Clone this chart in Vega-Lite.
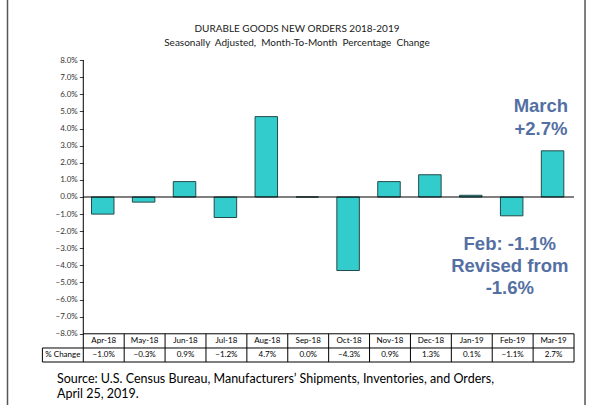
{
  "$schema": "https://vega.github.io/schema/vega-lite/v6.json",
  "width": 600,
  "height": 405,
  "autosize": {"type": "none"},
  "padding": 0,
  "background": "white",
  "config": {"view": {"stroke": null}, "font": "Lato", "axis": {"labelOverlap": false}},
  "data": {
    "values": [
      {"month": "Apr-18", "value": -0.010},
      {"month": "May-18", "value": -0.003},
      {"month": "Jun-18", "value": 0.009},
      {"month": "Jul-18", "value": -0.012},
      {"month": "Aug-18", "value": 0.047},
      {"month": "Sep-18", "value": 0.000},
      {"month": "Oct-18", "value": -0.043},
      {"month": "Nov-18", "value": 0.009},
      {"month": "Dec-18", "value": 0.013},
      {"month": "Jan-19", "value": 0.001},
      {"month": "Feb-19", "value": -0.011},
      {"month": "Mar-19", "value": 0.027}
    ]
  },
  "layer": [
    {
      "mark": {"type": "bar", "fill": "#33CCCC", "stroke": "#244a4a", "strokeWidth": 1, "width": {"band": 0.55}, "xOffset": -1},
      "encoding": {
        "x": {
          "field": "month", "type": "nominal",
          "scale": {"domain": ["% Change", "Apr-18", "May-18", "Jun-18", "Jul-18", "Aug-18", "Sep-18", "Oct-18", "Nov-18", "Dec-18", "Jan-19", "Feb-19", "Mar-19"], "paddingInner": 0, "paddingOuter": 0.836, "align": 0.62},
          "axis": null
        },
        "y": {
          "field": "value", "type": "quantitative",
          "scale": {"domain": [-0.12164, 0.1152], "nice": false, "zero": false},
          "axis": {"orient": "left", "offset": -83.3, "values": [-0.08, -0.07, -0.06, -0.05, -0.04, -0.03, -0.02, -0.01, 0, 0.01, 0.02, 0.03, 0.04, 0.05, 0.06, 0.07, 0.08], "tickCount": 17, "format": ".1%", "labelOverlap": false, "labelBound": false, "domain": false, "grid": false, "ticks": true, "tickSize": 4, "tickColor": "#404040", "labelFontSize": 8, "labelColor": "#333333", "labelPadding": 2, "title": null}
        },
        "y2": {"datum": 0}
      }
    },
    {
      "data": {"values": [{}]},
      "mark": {"type": "rule", "stroke": "#000000", "strokeWidth": 1.2},
      "encoding": {
        "x": {"datum": "Apr-18", "type": "nominal", "bandPosition": 0},
        "x2": {"datum": "Mar-19", "bandPosition": 1},
        "y": {"datum": 0, "type": "quantitative"}
      }
    },
    {
      "data": {"values": [{}]},
      "mark": {"type": "rule", "stroke": "#000000", "strokeWidth": 1},
      "encoding": {
        "x": {"datum": "Apr-18", "type": "nominal", "bandPosition": 0},
        "x2": {"datum": "Mar-19", "bandPosition": 1},
        "y": {"datum": -0.08, "type": "quantitative"}
      }
    },
    {
      "data": {"values": [{"lv": -0.0883}, {"lv": -0.0965}]},
      "mark": {"type": "rule", "stroke": "#000000", "strokeWidth": 1},
      "encoding": {
        "x": {"datum": "% Change", "type": "nominal", "bandPosition": 0},
        "x2": {"datum": "Mar-19", "bandPosition": 1},
        "y": {"field": "lv", "type": "quantitative"}
      }
    },
    {
      "data": {"values": [{}]},
      "mark": {"type": "rule", "stroke": "#000000", "strokeWidth": 1},
      "encoding": {
        "x": {"datum": "Apr-18", "type": "nominal", "bandPosition": 0},
        "y": {"datum": 0.08, "type": "quantitative"},
        "y2": {"datum": -0.0965}
      }
    },
    {
      "data": {"values": [{}]},
      "mark": {"type": "rule", "stroke": "#000000", "strokeWidth": 1},
      "encoding": {
        "x": {"datum": "% Change", "type": "nominal", "bandPosition": 0},
        "y": {"datum": -0.0883, "type": "quantitative"},
        "y2": {"datum": -0.0965}
      }
    },
    {
      "mark": {"type": "rule", "stroke": "#000000", "strokeWidth": 1},
      "encoding": {
        "x": {"field": "month", "type": "nominal", "bandPosition": 1},
        "y": {"datum": -0.08, "type": "quantitative"},
        "y2": {"datum": -0.0965}
      }
    },
    {
      "mark": {"type": "text", "fontSize": 8, "color": "#000000", "baseline": "middle"},
      "encoding": {
        "x": {"field": "month", "type": "nominal"},
        "y": {"datum": -0.0845, "type": "quantitative"},
        "text": {"field": "month"}
      }
    },
    {
      "mark": {"type": "text", "fontSize": 8, "color": "#000000", "baseline": "middle"},
      "encoding": {
        "x": {"field": "month", "type": "nominal"},
        "y": {"datum": -0.0924, "type": "quantitative"},
        "text": {"field": "value", "format": ".1%"}
      }
    },
    {
      "data": {"values": [{}]},
      "mark": {"type": "text", "fontSize": 8, "color": "#000000", "baseline": "middle", "text": "% Change"},
      "encoding": {
        "x": {"datum": "% Change", "type": "nominal"},
        "y": {"datum": -0.0924, "type": "quantitative"}
      }
    },
    {
      "data": {"values": [{}]},
      "mark": {"type": "text", "fontSize": 10, "color": "#1a1a1a", "baseline": "middle", "text": "DURABLE GOODS NEW ORDERS 2018-2019"},
      "encoding": {
        "x": {"datum": "Sep-18", "type": "nominal", "bandPosition": 0.225},
        "y": {"datum": 0.0982, "type": "quantitative"}
      }
    },
    {
      "data": {"values": [{}]},
      "mark": {"type": "text", "fontSize": 10, "color": "#1a1a1a", "baseline": "middle", "text": "Seasonally \u00a0Adjusted, \u00a0Month-To-Month \u00a0Percentage \u00a0Change"},
      "encoding": {
        "x": {"datum": "Sep-18", "type": "nominal", "bandPosition": 0.225},
        "y": {"datum": 0.0899, "type": "quantitative"}
      }
    },
    {
      "data": {"values": [{}]},
      "mark": {"type": "text", "font": "Liberation Sans", "fontWeight": "bold", "fontSize": 18.5, "color": "#5470A3", "baseline": "middle", "lineHeight": 23, "text": ["March", "+2.7%"]},
      "encoding": {
        "x": {"datum": "Mar-19", "type": "nominal", "bandPosition": 0.19},
        "y": {"datum": 0.0532, "type": "quantitative"}
      }
    },
    {
      "data": {"values": [{}]},
      "mark": {"type": "text", "font": "Liberation Sans", "fontWeight": "bold", "fontSize": 18.5, "color": "#5470A3", "baseline": "middle", "lineHeight": 22, "text": ["Feb: -1.1%", "Revised from", "-1.6%"]},
      "encoding": {
        "x": {"datum": "Feb-19", "type": "nominal", "bandPosition": 0.43},
        "y": {"datum": -0.0275, "type": "quantitative"}
      }
    },
    {
      "data": {"values": [{}]},
      "mark": {"type": "text", "fontSize": 12.5, "color": "#000000", "baseline": "middle", "align": "left", "lineHeight": 15, "text": ["Source: U.S. Census Bureau, Manufacturers’ Shipments, Inventories, and Orders,", "April 25, 2019."]},
      "encoding": {
        "x": {"datum": "% Change", "type": "nominal", "bandPosition": 0.357},
        "y": {"datum": -0.1064, "type": "quantitative"}
      }
    },
    {
      "data": {"values": [{}]},
      "mark": {"type": "rule", "stroke": "#555555", "strokeWidth": 1.5},
      "encoding": {
        "x": {"datum": "% Change", "type": "nominal", "bandPosition": -0.853}
      }
    },
    {
      "data": {"values": [{}]},
      "mark": {"type": "rule", "stroke": "#555555", "strokeWidth": 1.5},
      "encoding": {
        "x": {"datum": "Mar-19", "type": "nominal", "bandPosition": 1.269}
      }
    }
  ]
}
